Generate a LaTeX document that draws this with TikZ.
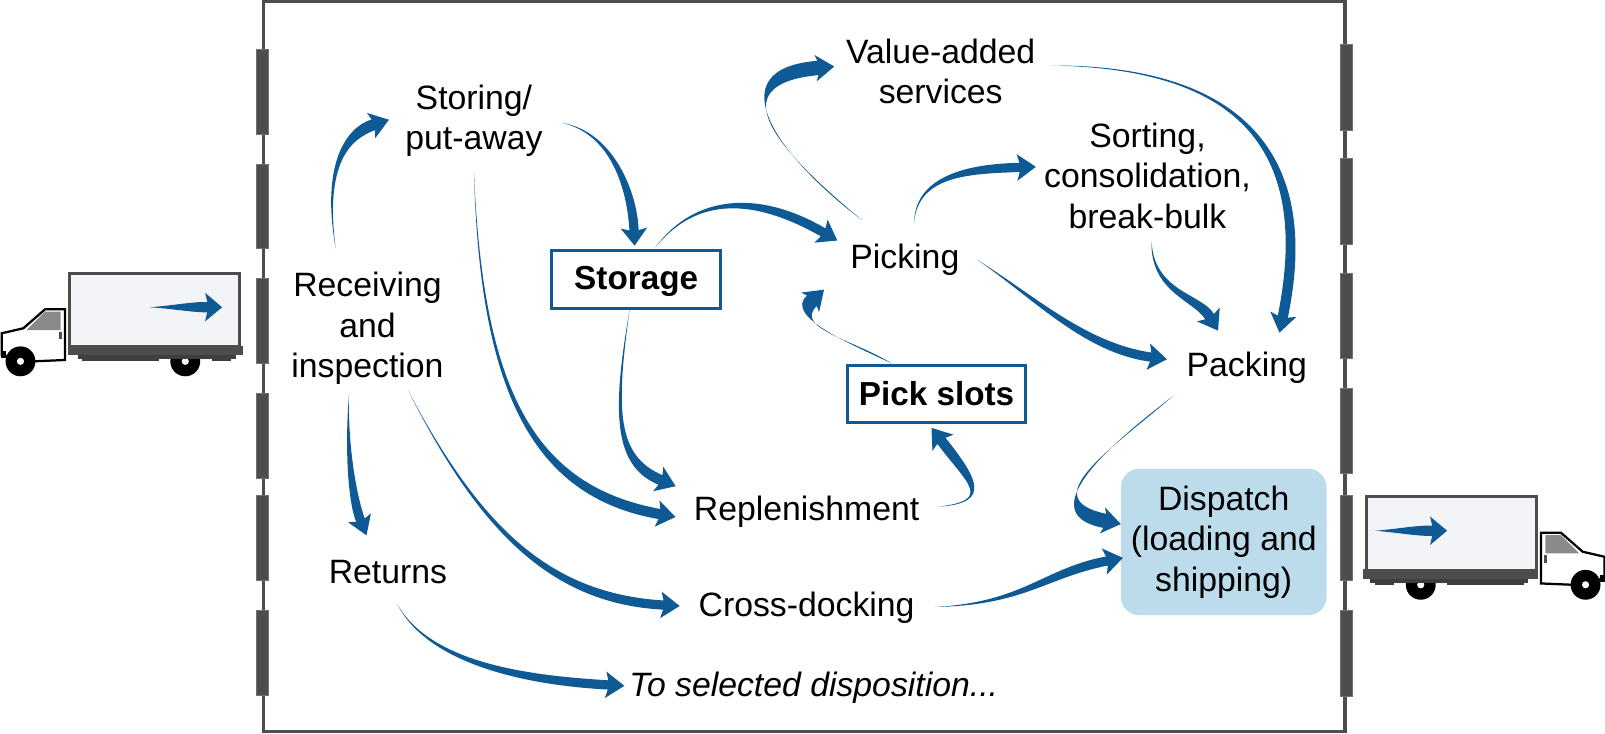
\documentclass[tikz,border=0pt]{standalone}
\usepackage{fontspec}
\setmainfont{Liberation Sans}
\usetikzlibrary{calc}
\definecolor{flowblue}{HTML}{0F5A94}
\definecolor{wallgray}{HTML}{4D4D4D}
\definecolor{boxfill}{HTML}{F3F4F7}
\definecolor{dispatchfill}{HTML}{BCDCEC}
\definecolor{glass}{HTML}{8A8A8A}
% tapered connector: start, ctrl1, ctrl2, end, half width, head length, head half width
\newcommand\flow[7]{%
  \fill[flowblue] let \p1=(#3), \p2=(#4), \n1={atan2(\y2-\y1,\x2-\x1)},
                      \p3=(#1), \p4=(#2), \n2={atan2(\y4-\y3,\x4-\x3)} in
    (#1) .. controls ($(#2)+(\n2+90:#5pt*0.35)$) and ($(#3)+(\n1+90:#5pt*1.1)$) .. ($(#4)+(\n1+180:#6pt)+(\n1+90:#5pt)$)
    -- ($(#4)+(\n1+180:#6pt*1.15)+(\n1+90:#7pt)$) -- (#4)
    -- ($(#4)+(\n1+180:#6pt*1.15)+(\n1-90:#7pt)$)
    -- ($(#4)+(\n1+180:#6pt)+(\n1-90:#5pt)$)
    .. controls ($(#3)+(\n1-90:#5pt*1.1)$) and ($(#2)+(\n2-90:#5pt*0.35)$) .. (#1) -- cycle;}
\tikzset{
  lbl/.style={align=center,inner sep=0pt,font=\fontsize{33}{39.5}\selectfont},
  slot/.style={draw=flowblue,line width=3pt,fill=white,inner sep=0pt,font=\fontsize{32.5}{39.5}\selectfont\bfseries},
  door/.style={fill=wallgray,draw=wallgray!80!white,line width=.5pt},
  wall/.style={draw=wallgray,line width=3pt},
  truckline/.style={draw=wallgray,line width=3pt,fill=boxfill},
}
\newcommand\truck{%
  \draw[draw=black,line width=2.2pt,fill=white] (1.6,325.6) -- (22.8,320.7) -- (44,302.2) -- (63.5,302.2) -- (63.5,351.7) -- (32.6,353) -- (1.6,346.8) -- cycle;
  \fill[glass] (26,322.4) -- (44,304.5) -- (59.3,304.5) -- (59.3,322.4) -- cycle;
  \fill[wallgray] (57.6,324) rectangle (61,331.5);
  \fill[black] (1,343) rectangle (6,350);
  \fill[black] (20,353) circle (14.6);
  \fill[white] (20,353) circle (3.5);
  \fill[black] (181,353) circle (14.6);
  \fill[white] (181,353) circle (3.5);
  \draw[truckline] (68,267) rectangle (234,339);
  \fill[wallgray] (66,338) rectangle (237,347);
  \fill[wallgray!80!black] (76,347) rectangle (231,351);
  \fill[wallgray!80!black] (80,351) rectangle (155,353);
  \fill[wallgray!80!black] (207,351) rectangle (226,353);
}
\begin{document}
\begin{tikzpicture}[x=1pt,y=-1pt]
\useasboundingbox (0,0) rectangle (1568,717);
% building
\draw[wall] (257,1.5) rectangle (1314,715);
\foreach \a/\b in {48/131,160/243,272/355,384/467,484/567,596/679}
  \filldraw[door] (250.5,\a) rectangle (262.5,\b);
\foreach \a/\b in {43/127,155/239,267/350,379/462,484/567,596/680}
  \filldraw[door] (1309,\a) rectangle (1321,\b);
% trucks
\truck
\begin{scope}[shift={(1569,218.3)},xscale=-1]
\truck
\end{scope}
\coordinate (ta1) at (146.6,300.2); \coordinate (ta2) at (217,300.2);
\flow{ta1}{170,300}{190,300}{ta2}{5}{14.5}{14}
\coordinate (tb1) at (1343.6,518.5); \coordinate (tb2) at (1413.7,518.5);
\flow{tb1}{1365,518.5}{1385,518.5}{tb2}{5}{14.5}{14}
% nodes
\node[lbl] (recv) at (359,321) {Receiving\\and\\inspection};
\node[lbl] (store) at (463,118) {Storing/\\put-away};
\node[slot,minimum width=165pt,minimum height=56pt,text height=27pt] (storage) at (621.5,273) {Storage};
\node[slot,minimum width=174pt,minimum height=56pt] (pick) at (915,385) {Pick slots};
\node[lbl] (value) at (919,70) {Value-added\\services};
\node[lbl] (sort) at (1121,171.5) {Sorting,\\consolidation,\\break-bulk};
\node[lbl] (picking) at (884,254) {Picking};
\node[lbl] (packing) at (1218,359) {Packing};
\node[lbl] (replen) at (788,500) {Replenishment};
\node[lbl] (returns) at (379,559) {Returns};
\node[lbl] (cross) at (788,594) {Cross-docking};
\node[lbl,font=\fontsize{33}{39.5}\selectfont\itshape] (dispo) at (795,672) {To selected disposition...};
\node[lbl,fill=dispatchfill,rounded corners=18pt,minimum width=201pt,minimum height=143pt] (dispatch) at (1195.5,529.5) {Dispatch\\(loading and\\shipping)};
% connector ends
\coordinate (recvA) at (328,243);   \coordinate (storeIn) at (380,117);
\coordinate (storeB) at (463,167);  \coordinate (replenA) at (660,505);
\coordinate (storeC) at (549,120);  \coordinate (storageIn) at (620,240);
\coordinate (storageA) at (640,242);\coordinate (pickingA) at (818,235);
\coordinate (storageB) at (615,303);\coordinate (replenB) at (660,475);
\coordinate (pickingB) at (842,215);\coordinate (valueIn) at (815,65);
\coordinate (pickingC) at (893,218);\coordinate (sortIn) at (1012,163);
\coordinate (pickingD) at (955,254);\coordinate (packingA) at (1140,351);
\coordinate (valueB) at (1027,64);  \coordinate (packingB) at (1250,325);
\coordinate (sortB) at (1125,235);  \coordinate (packingC) at (1190,323);
\coordinate (pickA) at (871,355);   \coordinate (pickingE) at (805,283);
\coordinate (replenC) at (917,495); \coordinate (pickIn) at (910,418);
\coordinate (packingD) at (1146,387);\coordinate (dispatchA) at (1095,512);
\coordinate (crossB) at (913,593);  \coordinate (dispatchB) at (1097,545);
\coordinate (recvC) at (341,385);   \coordinate (returnsIn) at (358,523);
\coordinate (recvD) at (399,382);   \coordinate (crossIn) at (664,592);
\coordinate (returnsB) at (388,590);\coordinate (dispoIn) at (610,670);
% connectors
\flow{recvA}{315,160}{340,130}{storeIn}{5.5}{16}{13}
\flow{storeB}{470,380}{520,480}{replenA}{5}{16}{13}
\flow{storeC}{600,130}{618,190}{storageIn}{4.5}{15}{13}
\flow{storageA}{680,190}{740,190}{pickingA}{4.5}{16}{13}
\flow{storageB}{600,400}{600,450}{replenB}{5}{16}{13}
\flow{pickingB}{760,150}{700,75}{valueIn}{7}{16}{13}
\flow{pickingC}{895,170}{950,165}{sortIn}{4.5}{16}{13}
\flow{pickingD}{1010,290}{1060,340}{packingA}{4.5}{16}{13}
\flow{valueB}{1190,65}{1290,130}{packingB}{5}{16}{13}
\flow{sortB}{1125,285}{1170,290}{packingC}{5}{16}{13}
\flow{pickA}{835,335}{770,315}{pickingE}{7}{16}{13}
\flow{replenC}{970,490}{950,470}{pickIn}{5}{16}{13}
\flow{packingD}{1080,440}{1010,495}{dispatchA}{7}{16}{13}
\flow{crossB}{1000,590}{1020,560}{dispatchB}{4.5}{16}{13}
\flow{recvC}{338,440}{345,490}{returnsIn}{4.5}{16}{12}
\flow{recvD}{470,520}{540,585}{crossIn}{4.5}{16}{13}
\flow{returnsB}{420,650}{520,665}{dispoIn}{4.5}{16}{13}
\end{tikzpicture}
\end{document}
